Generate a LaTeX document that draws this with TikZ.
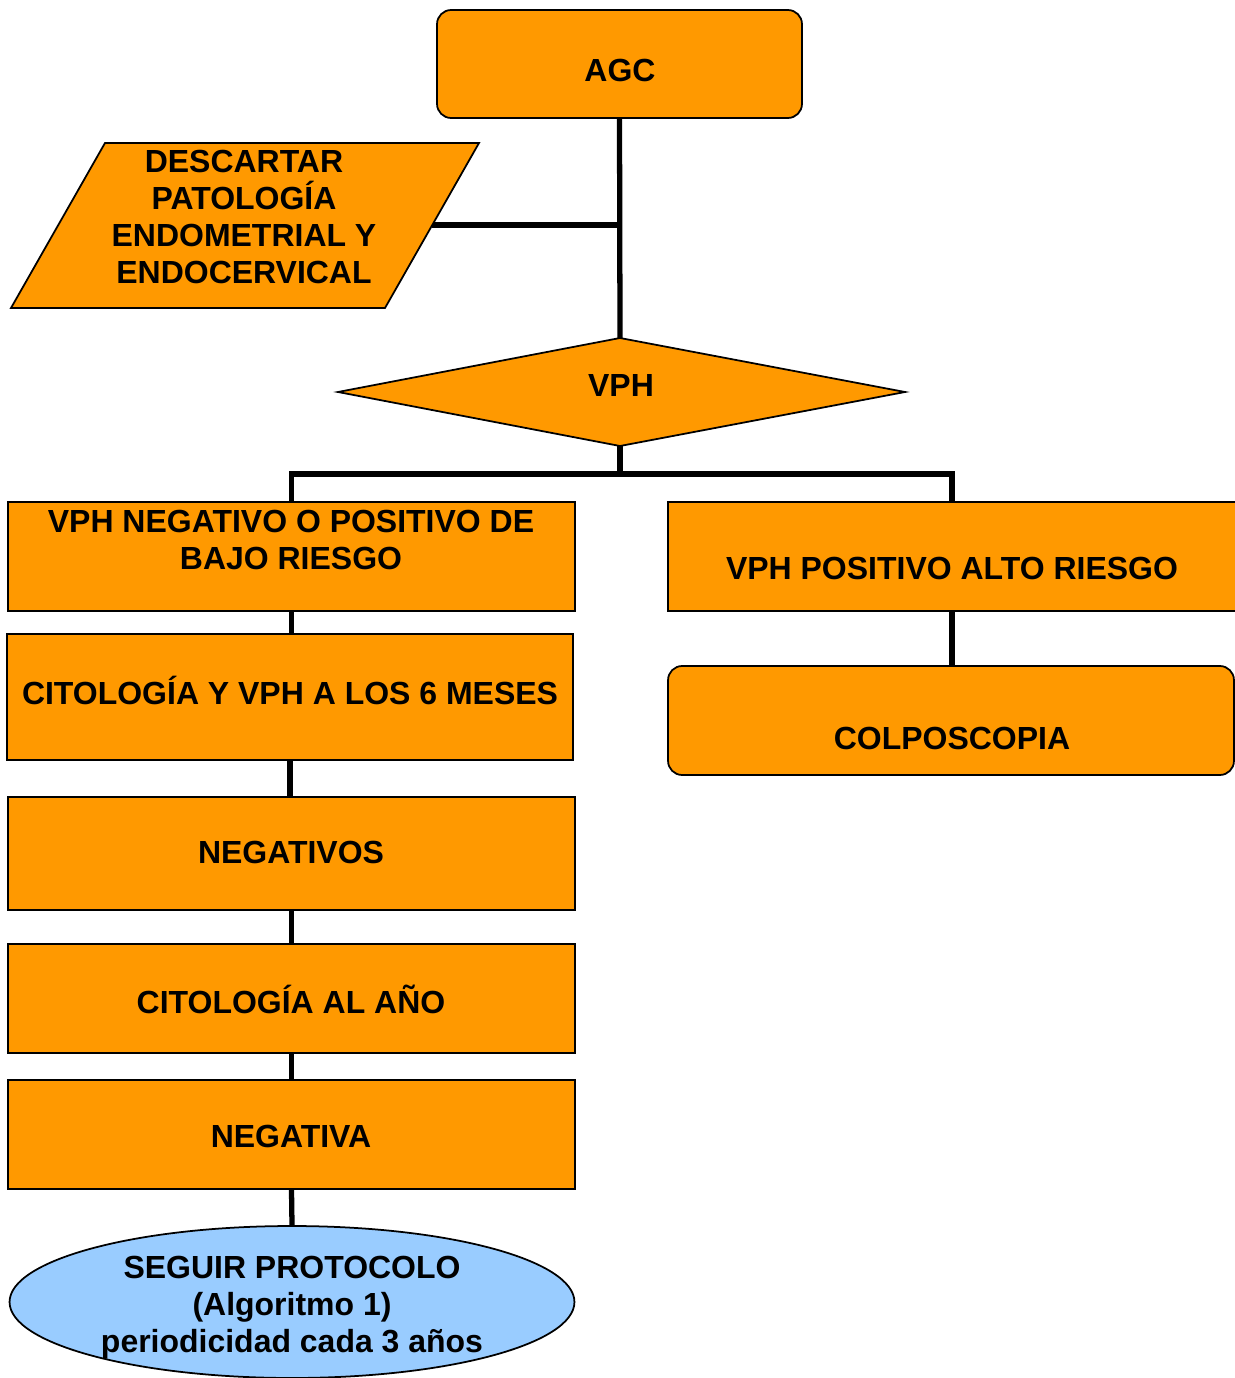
\documentclass[tikz,border=0pt]{standalone}
\usepackage{fontspec}
\setmainfont{Liberation Sans}
\usetikzlibrary{shapes.geometric}
\definecolor{orng}{HTML}{FF9900}
\definecolor{lblue}{HTML}{99CCFF}
\begin{document}
\begin{tikzpicture}[x=0.02cm,y=-0.02cm,
  shp/.style={draw=black, line width=1pt, fill=orng, inner sep=0pt},
  obox/.style={shp, rectangle},
  rbox/.style={shp, rectangle, rounded corners=8pt},
  txt/.style={font=\fontsize{18.2}{21}\selectfont\bfseries, align=center, inner sep=0pt},
  conn/.style={line width=3pt}]
\useasboundingbox (0,0) rectangle (1234,1378);

\coordinate (dtop) at (620,338);
\coordinate (dbot) at (620,446);
\coordinate (dleft) at (338,392);
\coordinate (dright) at (905,392);
\coordinate (ptl) at (105,143);
\coordinate (ptr) at (479,143);
\coordinate (pbr) at (385,308);
\coordinate (pbl) at (11,308);
\coordinate (pedge) at (432,225);

\node[rbox, minimum width=7.3cm, minimum height=2.16cm] (agc) at (619.5,64) {};
\node[txt] (agct) at (620,70.5) {AGC};

\draw[conn] (agc.south) -- (dtop);
\draw[conn] (pedge) -- (dtop |- pedge);

\draw[shp] (ptl) -- (ptr) -- (pbr) -- (pbl) -- cycle;
\node[txt, anchor=north] (pgt) at (244,150) {DESCARTAR\\PATOLOGÍA\\ENDOMETRIAL Y\\ENDOCERVICAL};

\draw[shp] (dtop) -- (dright) -- (dbot) -- (dleft) -- cycle;
\node[txt] (vpht) at (621,385) {VPH};

\node[obox, minimum width=11.34cm, minimum height=2.18cm] (vneg) at (291.5,556.5) {};
\node[txt, anchor=north] (vnegt) at (291,509.5) {VPH NEGATIVO O POSITIVO DE\\BAJO RIESGO};

\node[obox, minimum width=11.36cm, minimum height=2.18cm] (vpos) at (952,556.5) {};
\node[txt] (vpost) at (952,568) {VPH POSITIVO ALTO RIESGO};

\node[rbox, minimum width=11.32cm, minimum height=2.18cm] (colpo) at (951,720.5) {};
\node[txt] (colpot) at (952,738) {COLPOSCOPIA};

\node[obox, minimum width=11.32cm, minimum height=2.52cm] (cito6) at (290,697) {};
\node[txt] (cito6t) at (290,690) {CITOLOGÍA Y VPH A LOS 6 MESES};

\node[obox, minimum width=11.34cm, minimum height=2.26cm] (negs) at (291.5,853.5) {};
\node[txt] (negst) at (291,852) {NEGATIVOS};

\node[obox, minimum width=11.34cm, minimum height=2.18cm] (citoano) at (291.5,998.5) {};
\node[txt] (citoanot) at (291,999) {CITOLOGÍA AL AÑO};

\node[obox, minimum width=11.34cm, minimum height=2.18cm] (negativa) at (291.5,1134.5) {};
\node[txt] (negativat) at (291,1136) {NEGATIVA};

\node[draw=black, line width=1pt, fill=lblue, ellipse, inner sep=0pt,
      minimum width=11.3cm, minimum height=3.04cm] (seguir) at (292,1302) {};
\node[txt, anchor=north] (seguirt) at (292,1256) {SEGUIR PROTOCOLO\\(Algoritmo 1)\\periodicidad cada 3 años};

\draw[conn] (dbot) -- (620,474) -| (vneg.north);
\draw[conn] (620,474) -| (vpos.north);
\draw[conn] (vpos.south) -- (vpos.south |- colpo.north);
\draw[conn] (vneg.south) -- (vneg.south |- cito6.north);
\draw[conn] (cito6.south) -- (cito6.south |- negs.north);
\draw[conn] (negs.south) -- (negs.south |- citoano.north);
\draw[conn] (citoano.south) -- (citoano.south |- negativa.north);
\draw[conn] (negativa.south) -- (seguir.north);
\end{tikzpicture}
\end{document}
